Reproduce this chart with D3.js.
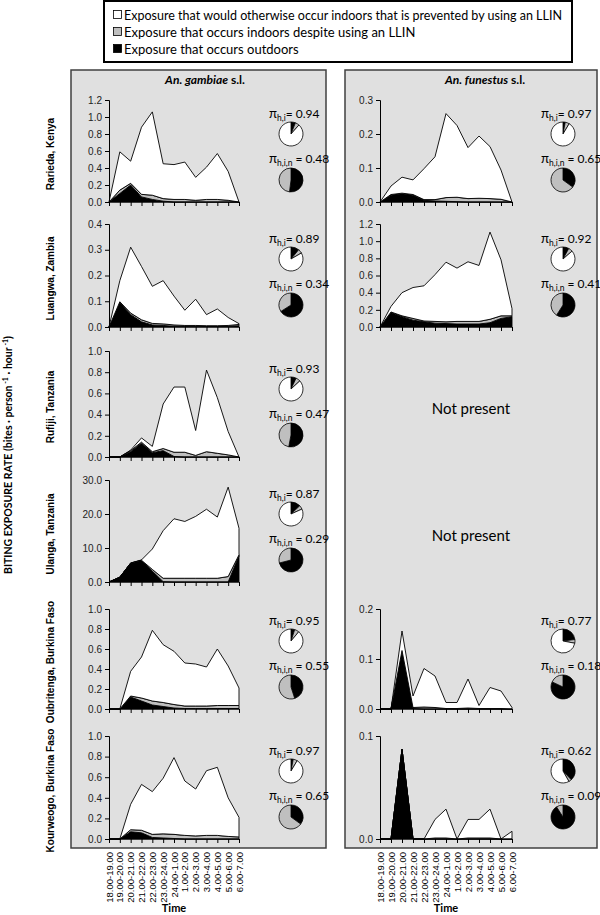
<!DOCTYPE html>
<html><head><meta charset="utf-8">
<script src="https://cdn.jsdelivr.net/npm/d3@7/dist/d3.min.js"></script>
<style>body{margin:0;background:#fff} svg{display:block}</style>
</head><body><svg id="c" width="600" height="915"></svg>
<script>
// ---------- DATA ----------
const categories = ["18.00-19.00","19.00-20.00","20.00-21.00","21.00-22.00","22.00-23.00","23.00-24.00","24.00-1.00","1.00-2.00","2.00-3.00","3.00-4.00","4.00-5.00","5.00-6.00","6.00-7.00"];
const legendLabels = ["Exposure that would otherwise occur indoors that is prevented by using an LLIN","Exposure that occurs indoors despite using an LLIN","Exposure that occurs  outdoors"];
const sites = ["Rarieda, Kenya","Luangwa, Zambia","Rufiji, Tanzania","Ulanga, Tanzania","Oubritenga, Burkina Faso","Kourweogo, Burkina Faso"];

// An. gambiae s.l. (outdoor = black, indoorLLIN = grey, prevented = white)
const gamRariedaOut   = [0,0.10,0.20,0.06,0.03,0.01,0,0,0,0,0,0,0];
const gamRariedaIn    = [0,0.04,0.02,0.03,0.05,0.03,0.03,0.03,0.02,0.03,0.03,0.02,0];
const gamRariedaPrev  = [0,0.45,0.26,0.79,0.98,0.41,0.41,0.44,0.27,0.38,0.54,0.34,0];
const gamLuangwaOut   = [0,0.095,0.048,0.02,0.008,0.006,0.003,0.002,0.003,0.002,0.002,0.002,0.005];
const gamLuangwaIn    = [0,0.003,0.006,0.008,0.006,0.006,0.005,0.004,0.003,0.003,0.003,0.004,0.005];
const gamLuangwaPrev  = [0,0.082,0.256,0.207,0.144,0.168,0.112,0.059,0.102,0.043,0.065,0.031,0.003];
const gamRufijiOut    = [0,0,0.05,0.13,0.04,0.06,0.005,0,0,0,0,0,0];
const gamRufijiIn     = [0,0,0.01,0.01,0.01,0.02,0.04,0.045,0.015,0.05,0.035,0.02,0];
const gamRufijiPrev   = [0,0,0.005,0.04,0.05,0.42,0.615,0.615,0.235,0.77,0.525,0.22,0];
const gamUlangaOut    = [0,1.4,5.5,6.3,3.2,0.1,0,0,0,0,0,0,7.7];
const gamUlangaIn     = [0,0,0.05,0.1,0.5,1.0,1.1,1.1,1.1,1.1,1.1,1.6,0.3];
const gamUlangaPrev   = [0,0,0.05,0.1,6.0,14.0,17.5,16.7,18.2,20.3,18.0,26.3,7.8];
const gamOubriOut     = [0,0,0.12,0.08,0.04,0.025,0.01,0.005,0.005,0.005,0.005,0.005,0.005];
const gamOubriIn      = [0,0,0.01,0.03,0.04,0.04,0.035,0.025,0.025,0.025,0.03,0.03,0.03];
const gamOubriPrev    = [0,0,0.247,0.41,0.707,0.578,0.532,0.43,0.42,0.39,0.565,0.395,0.175];
const gamKourOut      = [0,0,0.07,0.06,0.015,0.01,0.005,0,0,0,0,0,0];
const gamKourIn       = [0,0,0.02,0.025,0.03,0.04,0.04,0.035,0.03,0.035,0.035,0.025,0.02];
const gamKourPrev     = [0,0,0.247,0.445,0.415,0.54,0.745,0.528,0.455,0.628,0.661,0.375,0.19];

// An. funestus s.l.
const funRariedaOut   = [0,0.02,0.024,0.02,0.005,0.003,0.002,0.001,0,0,0,0,0];
const funRariedaIn    = [0,0.002,0.002,0.002,0.002,0.004,0.011,0.013,0.01,0.011,0.01,0.008,0];
const funRariedaPrev  = [0,0.025,0.047,0.043,0.091,0.126,0.247,0.211,0.15,0.183,0.153,0.086,0];
const funLuangwaOut   = [0,0.17,0.12,0.08,0.06,0.045,0.04,0.035,0.035,0.035,0.05,0.1,0.12];
const funLuangwaIn    = [0,0.005,0.01,0.02,0.01,0.02,0.02,0.03,0.03,0.03,0.04,0.03,0.01];
const funLuangwaPrev  = [0,0.065,0.27,0.36,0.41,0.545,0.695,0.621,0.695,0.652,1.016,0.653,0.084];
const funOubriOut     = [0,0,0.115,0.001,0,0,0,0,0,0,0,0,0];
const funOubriIn      = [0,0,0.002,0.002,0.004,0.003,0.001,0.001,0.002,0.001,0.001,0.001,0];
const funOubriPrev    = [0,0,0.039,0.023,0.077,0.063,0.012,0.012,0.058,0.006,0.042,0.035,0.003];
const funKourOut      = [0,0,0.087,0,0,0,0,0,0,0,0,0,0];
const funKourIn       = [0,0,0,0,0,0.001,0.001,0,0.001,0.001,0.001,0,0];
const funKourPrev     = [0,0,0,0,0,0.018,0.028,0,0.018,0.018,0.028,0,0.0075];

// axes (y max and tick step per site row)
const gamYMax  = [1.2,0.4,1.0,30,1.0,1.0];
const gamYStep = [0.2,0.1,0.2,10,0.2,0.2];
const funYMax  = [0.3,1.2,null,null,0.2,0.1];
const funYStep = [0.1,0.2,null,null,0.1,0.1];

// pie values
const gamPiHI   = [0.94,0.89,0.93,0.87,0.95,0.97];
const gamPiHIN  = [0.48,0.34,0.47,0.29,0.55,0.65];
const gamPie1Grey = [0.055,0.057,0.062,0.053,0.061,0.056];
const funPiHI   = [0.97,0.92,null,null,0.77,0.62];
const funPiHIN  = [0.65,0.41,null,null,0.18,0.09];
const funPie1Grey = [0.056,0.056,null,null,0.05,0.038];

// ---------- LAYOUT ----------
const svg = d3.select("#c");
const C_BG = "#e0e0e0", C_GREY = "#bfbfbf";
const FONT_C = "Lato, 'Open Sans', sans-serif";
const FONT_A = "'Liberation Sans', Arial, sans-serif";
const rowTop = [100,224,351,480,609,736];
const rowBot = [202,327,457,582,709,839];

const gamSeries = [
  [gamRariedaOut,gamRariedaIn,gamRariedaPrev],
  [gamLuangwaOut,gamLuangwaIn,gamLuangwaPrev],
  [gamRufijiOut,gamRufijiIn,gamRufijiPrev],
  [gamUlangaOut,gamUlangaIn,gamUlangaPrev],
  [gamOubriOut,gamOubriIn,gamOubriPrev],
  [gamKourOut,gamKourIn,gamKourPrev]];
const funSeries = [
  [funRariedaOut,funRariedaIn,funRariedaPrev],
  [funLuangwaOut,funLuangwaIn,funLuangwaPrev],
  null, null,
  [funOubriOut,funOubriIn,funOubriPrev],
  [funKourOut,funKourIn,funKourPrev]];

const panels = [
  {x:71, w:255, xr:[109,239], pieX:291, title:["An. gambiae"," s.l."], titleX:205,
   series:gamSeries, ymax:gamYMax, ystep:gamYStep, pihi:gamPiHI, pihin:gamPiHIN, grey:gamPie1Grey},
  {x:345, w:252, xr:[380,512], pieX:563, title:["An. funestus"," s.l."], titleX:485,
   series:funSeries, ymax:funYMax, ystep:funYStep, pihi:funPiHI, pihin:funPiHIN, grey:funPie1Grey}
];

// legend
const lg = svg.append("g");
lg.append("rect").attr("x",104).attr("y",1).attr("width",468).attr("height",61)
  .attr("fill","#fff").attr("stroke","#000").attr("stroke-width",2);
const legFills = ["#fff", C_GREY, "#000"];
legendLabels.forEach((t,i)=>{
  const y = 15 + i*17;
  lg.append("rect").attr("x",113.5).attr("y",y-4.5).attr("width",8).attr("height",8)
    .attr("fill",legFills[i]).attr("stroke","#000").attr("stroke-width",0.8);
  lg.append("text").attr("x",124).attr("y",y+4.5).attr("font-family",FONT_C)
    .attr("font-size",13).attr("textLength", i===0 ? 438 : null)
    .attr("lengthAdjust","spacingAndGlyphs").text(t);
});

const stack = d3.stack().keys([0,1,2]);

panels.forEach(p=>{
  svg.append("rect").attr("x",p.x).attr("y",70).attr("width",p.w).attr("height",778)
    .attr("fill",C_BG).attr("stroke","#404040").attr("stroke-width",1.5);
  const tt = svg.append("text").attr("x",p.titleX).attr("y",84).attr("text-anchor","middle")
    .attr("font-family",FONT_C).attr("font-size",12).attr("font-weight","bold");
  tt.append("tspan").attr("font-style","italic").text(p.title[0]);
  tt.append("tspan").text(p.title[1]);

  const x = d3.scalePoint().domain(categories).range(p.xr);

  p.series.forEach((ser,r)=>{
    const g = svg.append("g");
    if(!ser){
      g.append("text").attr("x",(p.xr[0]+p.xr[1])/2+25).attr("y",(rowTop[r]+rowBot[r])/2+10)
        .attr("text-anchor","middle").attr("font-family",FONT_C).attr("font-size",15).text("Not present");
      return;
    }
    const y = d3.scaleLinear().domain([0,p.ymax[r]]).range([rowBot[r],rowTop[r]]);
    const rows = categories.map((c,i)=>[ser[0][i],ser[1][i],ser[2][i]]);
    const st = stack(rows);
    const area = d3.area().x((d,i)=>x(categories[i])).y0(d=>y(d[0])).y1(d=>y(d[1]));
    const fills = ["#000", C_GREY, "#fff"];
    st.forEach((s,k)=>{
      g.append("path").attr("d",area(s)).attr("fill",fills[k])
        .attr("stroke","#000").attr("stroke-width",0.9).attr("stroke-linejoin","miter");
    });
    const nt = Math.round(p.ymax[r]/p.ystep[r]);
    const tv = d3.range(nt+1).map(i=>i*p.ystep[r]);
    const ya = d3.axisLeft(y).tickValues(tv).tickFormat(d3.format(".1f")).tickSize(4).tickPadding(3);
    const yg = g.append("g").attr("transform",`translate(${p.xr[0]},0)`).call(ya);
    yg.select(".domain").attr("stroke","#000");
    yg.selectAll("text").attr("font-family",FONT_A).attr("font-size",10).attr("fill","#222");
    const xa = d3.axisBottom(x).tickSize(4).tickFormat("");
    const xg = g.append("g").attr("transform",`translate(0,${rowBot[r]})`).call(xa);
    xg.select(".domain").attr("d",`M${p.xr[0]},0H${p.xr[1]}`).attr("stroke","#000");

    // pies
    const pieGen = d3.pie().sort(null).value(d=>d);
    const arc = d3.arc().innerRadius(0).outerRadius(12);
    const pie1 = [1-p.pihi[r], p.grey[r], p.pihi[r]-p.grey[r]];
    const pie2 = [1-p.pihin[r], p.pihin[r]];
    const pfills = ["#000", C_GREY, "#fff"];
    [[pie1,-68],[pie2,-22]].forEach(([vals,off])=>{
      const pg = g.append("g").attr("transform",`translate(${p.pieX},${rowBot[r]+off})`);
      pg.selectAll("path").data(pieGen(vals)).join("path").attr("d",arc)
        .attr("fill",(d,i)=>pfills[i]).attr("stroke","#000").attr("stroke-width",0.8);
    });
    const labs = [["h,i","= "+p.pihi[r].toFixed(2),-88],["h,i,n"," = "+p.pihin[r].toFixed(2),-43]];
    labs.forEach(([sub,val,off])=>{
      const t = g.append("text").attr("x",p.pieX-22).attr("y",rowBot[r]+off+4)
        .attr("font-family",FONT_C).attr("font-size",12).attr("fill","#000");
      t.append("tspan").attr("font-size",13).text("π");
      t.append("tspan").attr("font-size",8.5).attr("dy",3).text(sub);
      t.append("tspan").attr("dy",-3).text(val);
    });
  });

  // x labels
  categories.forEach(c=>{
    svg.append("text").attr("transform",`translate(${x(c)+3.5},852) rotate(-90)`)
      .attr("text-anchor","end").attr("font-family",FONT_A).attr("font-size",9.5).text(c);
  });
  svg.append("text").attr("x",(p.xr[0]+p.xr[1])/2).attr("y",912)
    .attr("text-anchor","middle").attr("font-family",FONT_C).attr("font-weight","bold")
    .attr("font-size",11).text("Time");
});

// row labels
sites.forEach((s,r)=>{
  svg.append("text").attr("transform",`translate(54,${(rowTop[r]+rowBot[r])/2+3}) rotate(-90)`)
    .attr("text-anchor","middle").attr("font-family",FONT_A).attr("font-weight","bold")
    .attr("font-size",10).text(s);
});

// y title
const yt = svg.append("text").attr("transform","translate(12,455) rotate(-90)")
  .attr("text-anchor","middle").attr("font-family",FONT_C).attr("font-weight","bold").attr("font-size",10.5);
yt.append("tspan").text("BITING EXPOSURE  RATE (bites · person");
yt.append("tspan").attr("font-size",7).attr("dy",-4).text(" -1");
yt.append("tspan").attr("dy",4).text(" · hour");
yt.append("tspan").attr("font-size",7).attr("dy",-4).text(" -1");
yt.append("tspan").attr("dy",4).text(")");
</script></body></html>
